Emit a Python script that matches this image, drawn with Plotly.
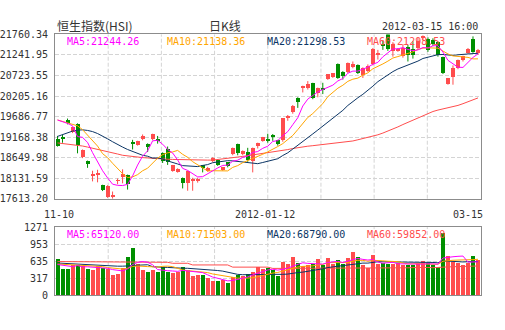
import plotly.graph_objects as go
import pandas as pd

# ---------------- data ----------------
dates = ["2011-11-10","2011-11-11","2011-11-14","2011-11-15","2011-11-16","2011-11-17","2011-11-18",
         "2011-11-21","2011-11-22","2011-11-23","2011-11-24","2011-11-25","2011-11-28","2011-11-29","2011-11-30",
         "2011-12-01","2011-12-02","2011-12-05","2011-12-06","2011-12-07","2011-12-08","2011-12-09",
         "2011-12-12","2011-12-13","2011-12-14","2011-12-15","2011-12-16","2011-12-19","2011-12-20",
         "2011-12-21","2011-12-22","2011-12-23","2011-12-28","2011-12-29","2011-12-30",
         "2012-01-03","2012-01-04","2012-01-05","2012-01-06","2012-01-09","2012-01-10","2012-01-11",
         "2012-01-12","2012-01-13","2012-01-16","2012-01-17","2012-01-18","2012-01-19","2012-01-20",
         "2012-01-26","2012-01-27","2012-01-30","2012-01-31",
         "2012-02-01","2012-02-02","2012-02-03","2012-02-06","2012-02-07","2012-02-08","2012-02-09",
         "2012-02-10","2012-02-13","2012-02-14","2012-02-15","2012-02-16","2012-02-17","2012-02-20",
         "2012-02-21","2012-02-22","2012-02-23","2012-02-24","2012-02-27","2012-02-28","2012-02-29",
         "2012-03-01","2012-03-02","2012-03-05","2012-03-06","2012-03-07","2012-03-08","2012-03-09",
         "2012-03-12","2012-03-13","2012-03-14","2012-03-15"]

opens = [19100,19161,19588,19296,19498,18654,18564,18198,18222,17954,17649,17661,18051,18161,18198,
         19035,18966,19100,18996,19100,19093,18759,18849,18303,18278,18124,18002,18063,18063,18449,
         18303,18564,18588,18327,18522,18727,18996,18734,18791,18564,18930,19059,19105,19215,19076,
         19076,19649,19784,20150,20418,20394,20516,20272,20381,20621,20679,21004,20801,20808,20930,
         20987,20718,20826,20996,21248,21492,21748,21321,21338,21199,21436,21394,21418,21662,21638,
         21597,21558,21174,20508,20686,20899,21094,21279,21645,21279]
highs = [19198,19222,19637,19418,19515,18856,18576,18320,18344,17966,17954,17795,18124,18356,18222,
         19100,19076,19235,19010,19254,19198,18783,18930,18466,18381,18149,18320,18142,18142,18466,
         18417,18661,18612,18417,18539,18905,19003,18832,18898,18905,19028,19174,19254,19247,19100,
         19645,19727,19979,20174,20467,20582,20540,20418,20540,20760,20784,21028,20833,21052,21077,
         21004,20930,21004,21418,21370,21614,21760.34,21565,21418,21516,21492,21589,21687,21736,21687,
         21662,21589,21199,20662,20979,21126,21223,21418,21711,21394]
lows = [18930,19027,19491,19271,18759,18637,18393,18051,18027,17807,17636,17613.20,17978,18002,17844,
        18856,18954,19088,18791,19088,19003,18515,18466,18295,18271,17873,17815,17815,18019,18278,
        18295,18539,18442,18320,18405,18710,18710,18710,18547,18278,18881,19052,19027,19076,18954,
        19052,19581,19759,19906,20296,20369,20125,20174,20255,20613,20662,20638,20621,20784,20906,
        20760,20662,20808,20979,21126,21370,21345,21199,21321,21174,21077,21150,21370,21614,21321,
        21467,21199,20760,20491,20491,20882,21077,21272,21296,21248]
closes = [18942,19113,19503,19405,18954,18832,18483,18210,18246,17832,17929,17685,18063,18222,17978,
          18991,19059,19181,18898,19240,19064,18564,18522,18449,18361,18002,18303,18076,18080,18386,
          18386,18630,18466,18400,18425,18888,18752,18815,18571,18874,19010,19157,19081,19174,18978,
          19630,19674,19954,20052,20460,20499,20133,20401,20357,20743,20767,20662,20704,21028,21011,
          20767,20906,20962,21387,21260,21467,21370,21499,21387,21418,21231,21223,21589,21687,21353,
          21516,21231,20784,20645,20913,21094,21199,21387,21304,21362]
volumes = [673,487,492,559,554,550,492,469,550,505,492,370,388,505,703,
           883,582,469,433,469,433,514,433,406,433,523,469,361,379,373,
           312,261,252,283,225,343,379,348,397,433,523,492,505,469,348,
           613,572,709,590,541,554,572,673,559,691,582,649,572,691,811,
           709,559,510,739,572,600,572,582,600,559,559,559,590,631,590,
           559,528,1159,721,618,600,554,590,721,649]

ma5_head = [19601,19564,19515,19454]
ma10_head = [19601,19564,19527,19491,19454,19357,19210,19088,18942]
ma20_head = [19186,19235,19283,19320,19344,19352,19337,19308,19259,19198,19125,19052,18978,18917,
             18856,18808,18747,18710,18686]
ma60_head = [19022,19008,18993,18978,18964,18944,18917,18891,18864,18837,18808,18776,18742,18710,18691,
             18673,18661,18651,18642,18630,18622,18615,18610,18605,18600,18598,18593,18590,18588,18588,
             18588,18588,18600,18617,18632,18649,18666,18681,18698,18717,18734,18754,18771,18788,18805,
             18827,18854,18881,18905,18925,18939,18952,18966,18981,18995,19010,19027,19042,19059]
vma5_head = [572,559,541,532]
vma10_head = [582,577,571,565,559,553,547,541,541]
vma20_head = [600,595,590,582,577,572,564,559,554,546,541,541,541,541,541,550,559,564,568]
vma60_head = [627]*10 + [622]*5 + [613]*8 + [595]*4 + [564]*8 + [523]*8 + [499]*16

price_ticks = [17613.20,18131.59,18649.98,19168.38,19686.77,20205.16,20723.55,21241.95,21760.34]
price_tick_text = ["17613.20","18131.59","18649.98","19168.38","19686.77","20205.16","20723.55","21241.95","21760.34"]
vol_ticks = [0,317.75,635.5,953.25,1271]
vol_tick_text = ["0","317","635","953","1271"]
x_label_idx = [0,42,84]
x_label_text = ["11-10","2012-01-12","03-15"]

title_text = "恒生指数(HSI)"
period_text = "日K线"
time_text = "2012-03-15 16:00"
price_legend = ["MA5:21244.26","MA10:21138.36","MA20:21298.53","MA60:21298.53"]
vol_legend = ["MA5:65120.00","MA10:71503.00","MA20:68790.00","MA60:59852.00"]

# ---------------- derived ----------------
n = len(closes)
idx = list(range(n))
cs = pd.Series(closes, dtype=float)
vs = pd.Series(volumes, dtype=float)

def ma(series, win, head):
    r = series.rolling(win).mean().tolist()
    return list(head) + r[len(head):]

ma5 = ma(cs, 5, ma5_head)
ma10 = ma(cs, 10, ma10_head)
ma20 = ma(cs, 20, ma20_head)
ma60 = ma(cs, 60, ma60_head)
vma5 = ma(vs, 5, vma5_head)
vma10 = ma(vs, 10, vma10_head)
vma20 = ma(vs, 20, vma20_head)
vma60 = ma(vs, 60, vma60_head)

RED = "#ff4d4d"
GREEN = "#008f00"
C_MA5 = "#ff00ff"
C_MA10 = "#ffa500"
C_MA20 = "#0b3565"
C_MA60 = "#ff4d4d"
GRID = "#d4d4d4"
FRAME = "#8c8c8c"
TXT = "#333333"
MONO = "DejaVu Sans Mono, Liberation Mono, monospace"

up = [c >= o for o, c in zip(opens, closes)]
colors = [RED if u else GREEN for u in up]
body_lo = [min(o, c) for o, c in zip(opens, closes)]
body_h = [max(abs(c - o), 22) for o, c in zip(opens, closes)]

fig = go.Figure()

# wicks
for col, flag in ((RED, True), (GREEN, False)):
    wx, wy = [], []
    for i in idx:
        if up[i] == flag:
            wx += [i, i, None]
            wy += [lows[i], highs[i], None]
    fig.add_trace(go.Scatter(x=wx, y=wy, mode="lines", line=dict(color=col, width=1),
                             hoverinfo="skip", xaxis="x", yaxis="y"))

# bodies
fig.add_trace(go.Bar(x=idx, y=body_h, base=body_lo, width=0.8,
                     marker=dict(color=colors, line=dict(width=0)),
                     customdata=dates, xaxis="x", yaxis="y"))

# MAs (price)
for series, col in ((ma60, C_MA60), (ma20, C_MA20), (ma10, C_MA10), (ma5, C_MA5)):
    fig.add_trace(go.Scatter(x=idx, y=series, mode="lines", line=dict(color=col, width=1),
                             hoverinfo="skip", xaxis="x", yaxis="y"))

# volume
fig.add_trace(go.Bar(x=idx, y=volumes, width=0.8, marker=dict(color=colors, line=dict(width=0)),
                     xaxis="x2", yaxis="y2"))
for series, col in ((vma60, C_MA60), (vma20, C_MA20), (vma10, C_MA10), (vma5, C_MA5)):
    fig.add_trace(go.Scatter(x=idx, y=series, mode="lines", line=dict(color=col, width=1),
                             hoverinfo="skip", xaxis="x2", yaxis="y2"))

W, H = 505, 330
xdom = [55 / W, 480.5 / W]
ydom_main = [1 - 200 / H, 1 - 29.5 / H]
ydom_vol = [1 - 300 / H, 1 - 229.5 / H]

axis_common = dict(showline=True, mirror=True, linecolor=FRAME, linewidth=1, zeroline=False,
                   fixedrange=True)

fig.update_layout(
    width=W, height=H, margin=dict(l=0, r=0, t=0, b=0),
    paper_bgcolor="white", plot_bgcolor="white", showlegend=False, bargap=0,
    xaxis=dict(domain=xdom, range=[-0.5, n - 0.5], showgrid=False, showticklabels=False,
               anchor="y", **axis_common),
    yaxis=dict(domain=ydom_main, range=[price_ticks[0], price_ticks[-1]], tickvals=price_ticks,
               ticktext=price_tick_text, showgrid=True, gridcolor=GRID, griddash="4px,2px",
               ticks="", ticklabelstandoff=4,
               tickfont=dict(family=MONO, size=10, color=TXT), anchor="x", **axis_common),
    xaxis2=dict(domain=xdom, range=[-0.5, n - 0.5], showgrid=False, showticklabels=False,
                anchor="y2", **axis_common),
    yaxis2=dict(domain=ydom_vol, range=[vol_ticks[0], vol_ticks[-1]], tickvals=vol_ticks,
                ticktext=vol_tick_text, showgrid=True, gridcolor=GRID, griddash="4px,2px",
                ticks="", ticklabelstandoff=4,
                tickfont=dict(family=MONO, size=10, color=TXT), anchor="x2", **axis_common),
)

# vertical dashed grid lines (8 equal divisions)
shapes = []
for ax in ("x", "x2"):
    yref = "y domain" if ax == "x" else "y2 domain"
    for k in range(1, 8):
        shapes.append(dict(type="line", xref=ax + " domain", yref=yref, x0=k / 8, x1=k / 8, y0=0, y1=1,
                           line=dict(color=GRID, width=1, dash="4px,2px"), layer="below"))
fig.update_layout(shapes=shapes)

ann = []
ann.append(dict(text=title_text, x=55 / W, y=1 - 20 / H, xref="paper", yref="paper", xanchor="left",
                yanchor="middle", showarrow=False,
                font=dict(family="Noto Sans CJK SC", size=12, color=TXT)))
ann.append(dict(text=period_text, x=225 / W, y=1 - 20 / H, xref="paper", yref="paper", xanchor="center",
                yanchor="middle", showarrow=False,
                font=dict(family="Noto Sans CJK SC", size=12, color=TXT)))
ann.append(dict(text=time_text, x=480 / W, y=1 - 21 / H, xref="paper", yref="paper", xanchor="right",
                yanchor="middle", showarrow=False, font=dict(family=MONO, size=10, color=TXT)))
leg_cols = [C_MA5, C_MA10, C_MA20, C_MA60]
for k in range(4):
    ann.append(dict(text=price_legend[k], x=(65 + 100 * k) / W, y=1 - 37 / H, xref="paper", yref="paper",
                    xanchor="left", yanchor="middle", showarrow=False,
                    font=dict(family=MONO, size=10, color=leg_cols[k])))
    ann.append(dict(text=vol_legend[k], x=(65 + 100 * k) / W, y=1 - 237 / H, xref="paper", yref="paper",
                    xanchor="left", yanchor="middle", showarrow=False,
                    font=dict(family=MONO, size=10, color=leg_cols[k])))
anchors = ["center", "center", "right"]
shifts = [1, -3, 4]
for k in range(3):
    ann.append(dict(text=x_label_text[k], x=x_label_idx[k] + (0.5 if anchors[k] == "right" else 0),
                    xref="x", y=1 - 216 / H, yref="paper", xanchor=anchors[k], yanchor="middle",
                    xshift=shifts[k], showarrow=False, font=dict(family=MONO, size=10, color=TXT)))
fig.update_layout(annotations=ann)

fig.write_html("out.html")
